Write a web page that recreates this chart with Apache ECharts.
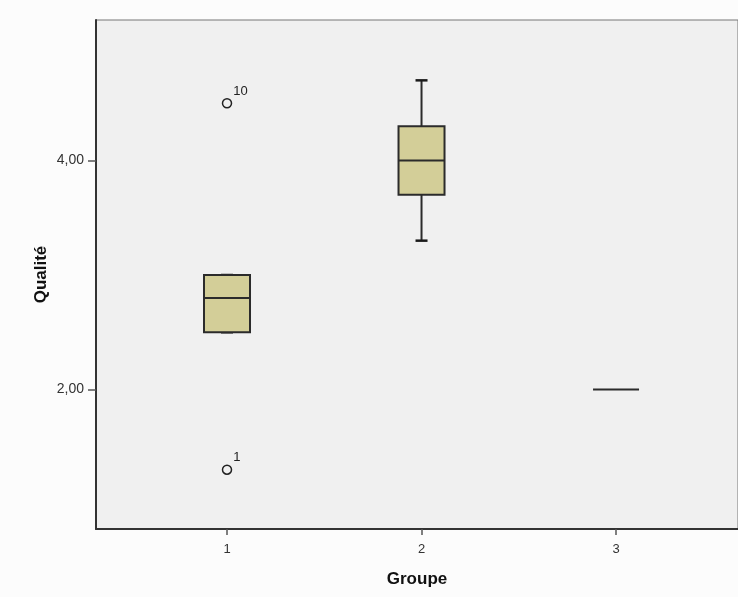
<!DOCTYPE html>
<html>
<head>
<meta charset="utf-8">
<script src="https://cdn.jsdelivr.net/npm/echarts@6/dist/echarts.min.js"></script>
<style>
html,body{margin:0;padding:0;background:#fcfcfc;}
#c{width:738px;height:597px;}
</style>
</head>
<body>
<div id="c"></div>
<script>
// Data
var groups = [1, 2, 3];
var whiskerLow = [2.5, 3.3, 2.0];
var q1 = [2.5, 3.7, 2.0];
var medians = [2.8, 4.0, 2.0];
var q3 = [3.0, 4.3, 2.0];
var whiskerHigh = [3.0, 4.7, 2.0];
var outlierGroups = [1, 1];
var outlierValues = [4.5, 1.3];
var outlierIds = ['10', '1'];
var yTicks = [2, 4];

var boxData = groups.map(function (g, i) {
  return [g, whiskerLow[i], q1[i], medians[i], q3[i], whiskerHigh[i]];
});
var outData = outlierGroups.map(function (g, i) {
  return { value: [g, outlierValues[i]], name: outlierIds[i] };
});

var BOX_W = 46, CAP_W = 12;
function renderBox(params, api) {
  var x = api.value(0);
  var pLow = api.coord([x, api.value(1)]);
  var pQ1 = api.coord([x, api.value(2)]);
  var pMed = api.coord([x, api.value(3)]);
  var pQ3 = api.coord([x, api.value(4)]);
  var pHigh = api.coord([x, api.value(5)]);
  var cx = pMed[0];
  var lineStyle = { stroke: '#2b2b2b', lineWidth: 2 };
  var children = [];
  if (Math.abs(pQ1[1] - pQ3[1]) > 0.5) {
    children.push({ type: 'line', shape: { x1: cx, y1: pHigh[1], x2: cx, y2: pQ3[1] }, style: lineStyle });
    children.push({ type: 'line', shape: { x1: cx, y1: pQ1[1], x2: cx, y2: pLow[1] }, style: lineStyle });
    children.push({ type: 'line', shape: { x1: cx - CAP_W / 2, y1: pHigh[1], x2: cx + CAP_W / 2, y2: pHigh[1] }, style: { stroke: '#1a1a1a', lineWidth: 2.5 } });
    children.push({ type: 'line', shape: { x1: cx - CAP_W / 2, y1: pLow[1], x2: cx + CAP_W / 2, y2: pLow[1] }, style: { stroke: '#1a1a1a', lineWidth: 2.5 } });
    children.push({ type: 'rect', shape: { x: cx - BOX_W / 2, y: pQ3[1], width: BOX_W, height: pQ1[1] - pQ3[1] }, style: { fill: '#d3ce98', stroke: '#2b2b2b', lineWidth: 2 } });
  }
  children.push({ type: 'line', shape: { x1: cx - BOX_W / 2, y1: pMed[1], x2: cx + BOX_W / 2, y2: pMed[1] }, style: { stroke: '#2b2b2b', lineWidth: 2 } });
  return { type: 'group', children: children };
}

var chart = echarts.init(document.getElementById('c'), null, { renderer: 'canvas' });
chart.setOption({
  backgroundColor: '#fcfcfc',
  animation: false,
  grid: {
    left: 96, top: 20, right: 0, bottom: 68,
    show: true, backgroundColor: '#f0f0f0', borderColor: '#777777', borderWidth: 1
  },
  xAxis: {
    type: 'value', min: 0.3265, max: 3.627,
    name: 'Groupe', nameLocation: 'middle', nameGap: 42,
    nameTextStyle: { fontFamily: 'Liberation Sans, Arial', fontWeight: 'bold', fontSize: 17, color: '#111' },
    splitLine: { show: false },
    axisLine: { show: true, lineStyle: { color: '#333', width: 2 } },
    axisTick: { show: true, length: 6, customValues: groups, lineStyle: { color: '#555', width: 1.5 } },
    axisLabel: { customValues: groups, margin: 14, fontFamily: 'Liberation Sans, Arial', fontSize: 13, color: '#333' }
  },
  yAxis: {
    type: 'value', min: 0.782, max: 5.227,
    name: 'Qualité', nameLocation: 'middle', nameGap: 46, nameRotate: 90, nameMoveOverlap: false,
    nameTextStyle: { fontFamily: 'Liberation Sans, Arial', fontWeight: 'bold', fontSize: 17, color: '#111' },
    splitLine: { show: false },
    axisLine: { show: true, lineStyle: { color: '#333', width: 2 } },
    axisTick: { show: true, length: 8, customValues: yTicks, lineStyle: { color: '#555', width: 1.5 } },
    axisLabel: {
      customValues: yTicks, margin: 12, fontFamily: 'Liberation Sans, Arial', fontSize: 14, color: '#333',
      formatter: function (v) { return v.toFixed(2).replace('.', ','); }
    }
  },
  series: [
    {
      type: 'custom',
      renderItem: renderBox,
      encode: { x: 0, y: [1, 2, 3, 4, 5] },
      data: boxData,
      clip: false
    },
    {
      type: 'scatter',
      symbol: 'circle',
      symbolSize: 9,
      itemStyle: { color: '#f0f0f0', borderColor: '#222', borderWidth: 1.5, opacity: 1 },
      label: {
        show: true, position: 'right', formatter: '{b}', offset: [-4, -12],
        fontFamily: 'Liberation Sans, Arial', fontSize: 13, color: '#222'
      },
      data: outData
    }
  ]
});
</script>
</body>
</html>
